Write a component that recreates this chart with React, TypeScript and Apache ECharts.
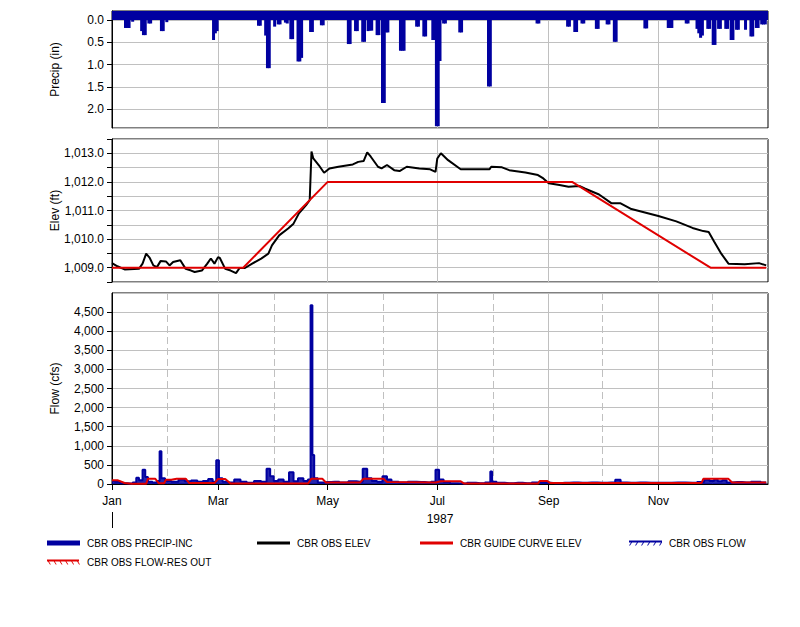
import React, { useEffect, useRef } from "react";
import * as echarts from "echarts";

const YEAR = 1987;
const doy = (md: string) =>
  (Date.UTC(YEAR, +md.slice(0, 2) - 1, +md.slice(3, 5)) - Date.UTC(YEAR, 0, 1)) / 86400000;

const majorMonthDates = ["01-01", "03-01", "05-01", "07-01", "09-01", "11-01"];
const majorMonthLabels = ["Jan", "Mar", "May", "Jul", "Sep", "Nov"];
const minorMonthDates = ["02-01", "04-01", "06-01", "08-01", "10-01", "12-01"];
const yearLabel = "1987";

const precipDates = ["01-08","01-09","01-10","01-12","01-17","01-18","01-19","01-21","01-22","01-28","01-29","01-31","02-26","02-27","02-28","03-23","03-24","03-27","03-28","03-29","04-01","04-03","04-04","04-07","04-08","04-10","04-11","04-14","04-15","04-16","04-21","04-22","04-27","04-28","05-12","05-13","05-16","05-17","05-20","05-21","05-23","05-24","05-25","05-28","05-29","05-31","06-01","06-02","06-03","06-10","06-11","06-12","06-19","06-20","06-23","06-24","06-28","06-29","06-30","07-01","07-02","07-04","07-05","07-13","07-14","07-29","07-30","08-25","08-26","09-11","09-12","09-15","09-16","09-19","09-20","09-27","09-28","10-03","10-04","10-07","10-08","10-24","10-25","11-06","11-07","11-08","11-16","11-17","11-22","11-23","11-24","11-25","11-28","11-29","12-01","12-02","12-04","12-05","12-08","12-09","12-11","12-12","12-14","12-15","12-19","12-22","12-23","12-25","12-26","12-28","12-29","12-30"];
const precipIn = [0.18,0.18,0.18,0.04,0.25,0.34,0.34,0.08,0.08,0.25,0.25,0.05,0.45,0.3,0.25,0.13,0.13,0.35,1.08,1.08,0.15,0.1,0.1,0.06,0.08,0.43,0.43,0.93,0.93,0.85,0.27,0.27,0.12,0.12,0.54,0.54,0.25,0.25,0.49,0.49,0.25,0.24,0.24,0.34,0.34,1.86,1.86,0.28,0.28,0.69,0.69,0.69,0.15,0.15,0.37,0.37,0.45,0.45,2.38,2.38,0.92,0.08,0.08,0.28,0.28,1.49,1.49,0.08,0.08,0.15,0.15,0.27,0.27,0.08,0.08,0.2,0.2,0.1,0.1,0.49,0.49,0.19,0.19,0.18,0.18,0.18,0.08,0.08,0.2,0.3,0.4,0.35,0.2,0.2,0.56,0.56,0.2,0.2,0.2,0.2,0.45,0.45,0.22,0.22,0.22,0.37,0.37,0.18,0.18,0.1,0.1,0.1];

const elevDates = ["01-01","01-04","01-08","01-16","01-18","01-20","01-22","01-24","01-26","01-28","01-31","02-02","02-04","02-08","02-11","02-14","02-16","02-20","02-23","02-25","02-27","03-01","03-02","03-05","03-08","03-11","03-13","03-16","03-20","03-25","03-29","03-31","04-04","04-09","04-12","04-15","04-19","04-21","04-22","04-23","04-26","04-29","05-02","05-07","05-15","05-18","05-21","05-23","05-25","05-29","05-31","06-03","06-07","06-10","06-14","06-21","06-27","06-30","07-01","07-03","07-07","07-14","07-30","07-31","08-06","08-10","08-19","08-26","08-29","09-01","09-07","09-12","09-18","09-21","09-29","10-06","10-11","10-17","11-01","11-11","11-20","11-26","11-29","12-02","12-06","12-10","12-19","12-27","12-31"];
const elevFt = [1009.16,1009.05,1008.94,1008.96,1009.14,1009.49,1009.34,1009.08,1009.02,1009.23,1009.22,1009.08,1009.2,1009.26,1008.96,1008.9,1008.85,1008.9,1009.14,1009.32,1009.14,1009.37,1009.34,1008.96,1008.9,1008.81,1008.99,1008.99,1009.14,1009.32,1009.49,1009.78,1010.13,1010.37,1010.54,1010.9,1011.19,1011.36,1013.06,1012.82,1012.59,1012.32,1012.47,1012.53,1012.61,1012.7,1012.73,1013.03,1012.88,1012.53,1012.47,1012.59,1012.41,1012.38,1012.53,1012.47,1012.44,1012.35,1012.82,1013.0,1012.76,1012.44,1012.44,1012.53,1012.51,1012.41,1012.33,1012.24,1012.12,1011.95,1011.89,1011.83,1011.86,1011.77,1011.56,1011.25,1011.25,1011.05,1010.81,1010.62,1010.39,1010.28,1010.25,1009.92,1009.49,1009.14,1009.12,1009.16,1009.08];

const guideDates = ["01-01", "03-15", "05-01", "09-14", "11-30", "12-31"];
const guideFt = [1009, 1009, 1012, 1012, 1009, 1009];

const flowDates = ["01-01","01-04","01-07","01-11","01-14","01-15","01-17","01-19","01-20","01-22","01-25","01-27","01-28","01-29","02-01","02-05","02-09","02-12","02-16","02-19","02-22","02-25","02-27","03-01","03-02","03-05","03-08","03-12","03-15","03-19","03-23","03-27","03-29","03-31","04-02","04-05","04-08","04-11","04-13","04-16","04-19","04-21","04-22","04-23","04-24","04-27","05-01","05-05","05-10","05-15","05-19","05-22","05-24","05-27","05-30","06-02","06-04","06-07","06-12","06-17","06-22","06-26","06-29","07-01","07-03","07-06","07-10","07-15","07-20","07-25","07-30","07-31","08-01","08-05","08-10","08-15","08-20","08-25","08-30","09-05","09-10","09-15","09-20","09-25","10-01","10-06","10-10","10-12","10-17","10-22","10-28","11-05","11-12","11-20","11-25","11-28","12-01","12-03","12-05","12-08","12-10","12-15","12-20","12-25","12-31"];
const flowCfs = [80,60,20,10,40,165,100,375,180,60,40,80,855,150,80,60,120,70,90,60,80,130,60,620,150,60,40,120,60,30,80,60,400,200,80,120,60,305,70,150,80,120,4680,760,150,40,50,60,40,70,60,400,150,80,60,200,120,60,40,60,50,40,60,375,120,50,20,10,30,20,40,330,60,30,20,30,20,40,30,20,30,40,30,40,30,40,110,40,30,40,30,30,40,30,50,110,80,120,70,100,40,50,40,60,40];

const resOutDates = ["01-01","01-04","01-08","01-12","01-20","01-21","01-25","01-27","01-30","01-31","02-03","02-06","02-11","02-13","02-27","03-01","03-05","03-08","04-20","04-22","04-28","04-30","05-19","05-21","06-01","06-03","06-30","07-03","07-14","07-16","08-26","08-27","08-31","09-02","11-25","11-26","12-10","12-12","12-31"];
const resOutCfs = [100,100,25,5,5,140,140,20,20,110,110,140,140,25,25,130,130,10,10,140,140,40,40,140,140,50,40,70,70,10,10,80,80,25,25,135,135,40,40];

const FONT = "'Liberation Sans', Arial, Helvetica, sans-serif";
const BLUE = "#0000a0";
const RED = "#e00000";
const GRID = "#c0c0c0";
const X_MAX = 365;

const pairs = (dates: string[], vals: number[], shift = 0) =>
  dates.map((d, i) => [doy(d) + shift, vals[i]]);

const hatch = (dir: number) => {
  let p = "M0 0H33V2H0Z";
  for (let i = 0; i < 6; i++) {
    const x = 2 + i * 6;
    p += dir > 0 ? ` M${x} 2L${x - 2} 5H${x - 1}L${x + 1} 2Z` : ` M${x - 1} 2L${x + 1} 5H${x + 2}L${x} 2Z`;
  }
  return "path://" + p;
};

export default function App() {
  const ref = useRef<HTMLDivElement>(null);
  useEffect(() => {
    if (!ref.current) return;
    const chart = echarts.init(ref.current, undefined, { renderer: "svg" });
    const majorVals = majorMonthDates.map(doy);
    const minorVals = minorMonthDates.map(doy);
    const baseX = (gridIndex: number) => ({
      type: "value",
      gridIndex,
      min: 0,
      max: X_MAX,
      axisLine: { show: false },
      axisTick: { show: false, customValues: majorVals },
      axisLabel: { show: false, customValues: majorVals },
      splitLine: { show: true, lineStyle: { color: GRID, width: 1 } },
    });
    const yCommon = {
      type: "value",
      nameLocation: "middle",
      nameGap: 51,
      nameMoveOverlap: false,
      nameTextStyle: { fontSize: 12, color: "#000", fontFamily: FONT },
      axisLine: { show: true, lineStyle: { color: "#000", width: 1 } },
      axisTick: { show: true, length: 5, lineStyle: { color: "#000" } },
      splitLine: { show: true, lineStyle: { color: GRID, width: 1 } },
    };
    const legendCommon = {
      orient: "horizontal",
      selectedMode: false,
      itemWidth: 33,
      textStyle: { fontSize: 10, color: "#000", fontFamily: FONT, padding: [0, 0, 0, 2] },
      padding: 0,
    };
    const option: any = {
      animation: false,
      backgroundColor: "#fff",
      textStyle: { fontFamily: FONT },
      grid: [
        { left: 112, right: 32, top: 11, height: 117, show: true, borderColor: "#000", borderWidth: 1 },
        { left: 112, right: 32, top: 139, height: 143, show: true, borderColor: "#000", borderWidth: 1 },
        { left: 112, right: 32, top: 293, height: 191, show: true, borderColor: "#000", borderWidth: 1 },
      ],
      xAxis: [
        baseX(0),
        baseX(1),
        {
          ...baseX(2),
          axisLine: { show: true, lineStyle: { color: "#000" } },
          axisTick: { show: true, customValues: majorVals, length: 6, lineStyle: { color: "#000" } },
          axisLabel: {
            show: true,
            customValues: majorVals,
            margin: 11,
            fontSize: 12,
            color: "#000",
            fontFamily: FONT,
            formatter: (v: number) => majorMonthLabels[majorVals.indexOf(v)] ?? "",
          },
        },
        {
          type: "value",
          gridIndex: 2,
          min: 0,
          max: X_MAX,
          axisLine: { show: false },
          axisTick: { show: false, customValues: minorVals },
          axisLabel: { show: false, customValues: minorVals },
          splitLine: { show: true, lineStyle: { color: GRID, width: 1, type: [7, 4] } },
        },
        {
          type: "value",
          gridIndex: 2,
          min: 0,
          max: X_MAX,
          position: "bottom",
          offset: 28,
          axisLine: { show: false },
          axisTick: { show: true, customValues: [0], length: 16, lineStyle: { color: "#000" } },
          axisLabel: {
            show: true,
            customValues: [182.5],
            margin: 1,
            fontSize: 12,
            color: "#000",
            fontFamily: FONT,
            formatter: () => yearLabel,
          },
          splitLine: { show: false },
        },
      ],
      yAxis: [
        {
          ...yCommon,
          gridIndex: 0,
          name: "Precip (in)",
          inverse: true,
          min: -0.2,
          max: 2.42,
          splitNumber: 5,
          axisLabel: {
            fontSize: 12,
            color: "#000",
            fontFamily: FONT,
            showMinLabel: false,
            showMaxLabel: false,
            formatter: (v: number) => Math.abs(v).toFixed(1),
          },
        },
        {
          ...yCommon,
          gridIndex: 1,
          name: "Elev (ft)",
          min: 1008.5,
          max: 1013.5,
          interval: 0.5,
          axisLabel: {
            fontSize: 12,
            color: "#000",
            fontFamily: FONT,
            formatter: (v: number) =>
              Number.isInteger(v)
                ? v.toLocaleString("en-US", { minimumFractionDigits: 1, maximumFractionDigits: 1 })
                : "",
          },
        },
        {
          ...yCommon,
          gridIndex: 2,
          name: "Flow (cfs)",
          min: 0,
          max: 5000,
          interval: 500,
          axisLabel: {
            fontSize: 12,
            color: "#000",
            fontFamily: FONT,
            showMaxLabel: false,
            formatter: (v: number) => v.toLocaleString("en-US"),
          },
        },
      ],
      legend: [
        { ...legendCommon, data: ["CBR OBS PRECIP-INC"], left: 47, top: 538, icon: "rect", itemHeight: 5, itemStyle: { color: BLUE, borderWidth: 0 } },
        { ...legendCommon, data: ["CBR OBS ELEV"], left: 257, top: 538, icon: "rect", itemHeight: 3, itemStyle: { color: "#000", borderWidth: 0 } },
        { ...legendCommon, data: ["CBR GUIDE CURVE ELEV"], left: 420, top: 538, icon: "rect", itemHeight: 3, itemStyle: { color: RED, borderWidth: 0 } },
        { ...legendCommon, data: ["CBR OBS FLOW"], left: 629, top: 538, icon: hatch(1), itemHeight: 5, itemStyle: { color: BLUE, borderWidth: 0 } },
        { ...legendCommon, data: ["CBR OBS FLOW-RES OUT"], left: 47, top: 557, icon: hatch(-1), itemHeight: 5, itemStyle: { color: RED, borderWidth: 0 } },
      ],
      series: [
        {
          name: "CBR OBS PRECIP-INC",
          type: "bar",
          xAxisIndex: 0,
          yAxisIndex: 0,
          barWidth: 3,
          itemStyle: { color: BLUE },
          data: pairs(precipDates, precipIn, 0.5),
          markArea: {
            silent: true,
            itemStyle: { color: BLUE, opacity: 1 },
            data: [[{ xAxis: 0, yAxis: -0.2 }, { xAxis: X_MAX, yAxis: 0 }]],
          },
        },
        {
          name: "CBR OBS ELEV",
          type: "line",
          xAxisIndex: 1,
          yAxisIndex: 1,
          showSymbol: false,
          symbol: "none",
          color: "#000",
          lineStyle: { color: "#000", width: 2 },
          data: pairs(elevDates, elevFt),
        },
        {
          name: "CBR GUIDE CURVE ELEV",
          type: "line",
          xAxisIndex: 1,
          yAxisIndex: 1,
          showSymbol: false,
          symbol: "none",
          color: RED,
          lineStyle: { color: RED, width: 2 },
          data: pairs(guideDates, guideFt),
        },
        {
          name: "CBR OBS FLOW",
          type: "line",
          step: "middle",
          xAxisIndex: 2,
          yAxisIndex: 2,
          showSymbol: false,
          symbol: "none",
          color: BLUE,
          lineStyle: { color: BLUE, width: 2 },
          areaStyle: { color: BLUE, opacity: 0.85 },
          data: pairs(flowDates, flowCfs),
        },
        {
          name: "CBR OBS FLOW-RES OUT",
          type: "line",
          xAxisIndex: 2,
          yAxisIndex: 2,
          showSymbol: false,
          symbol: "none",
          color: RED,
          lineStyle: { color: RED, width: 2 },
          data: pairs(resOutDates, resOutCfs),
        },
      ],
    };
    chart.setOption(option);
    return () => chart.dispose();
  }, []);
  return (
    <div
      ref={ref}
      style={{ position: "absolute", left: 0, top: 0, width: 800, height: 627, background: "#fff" }}
    />
  );
}
